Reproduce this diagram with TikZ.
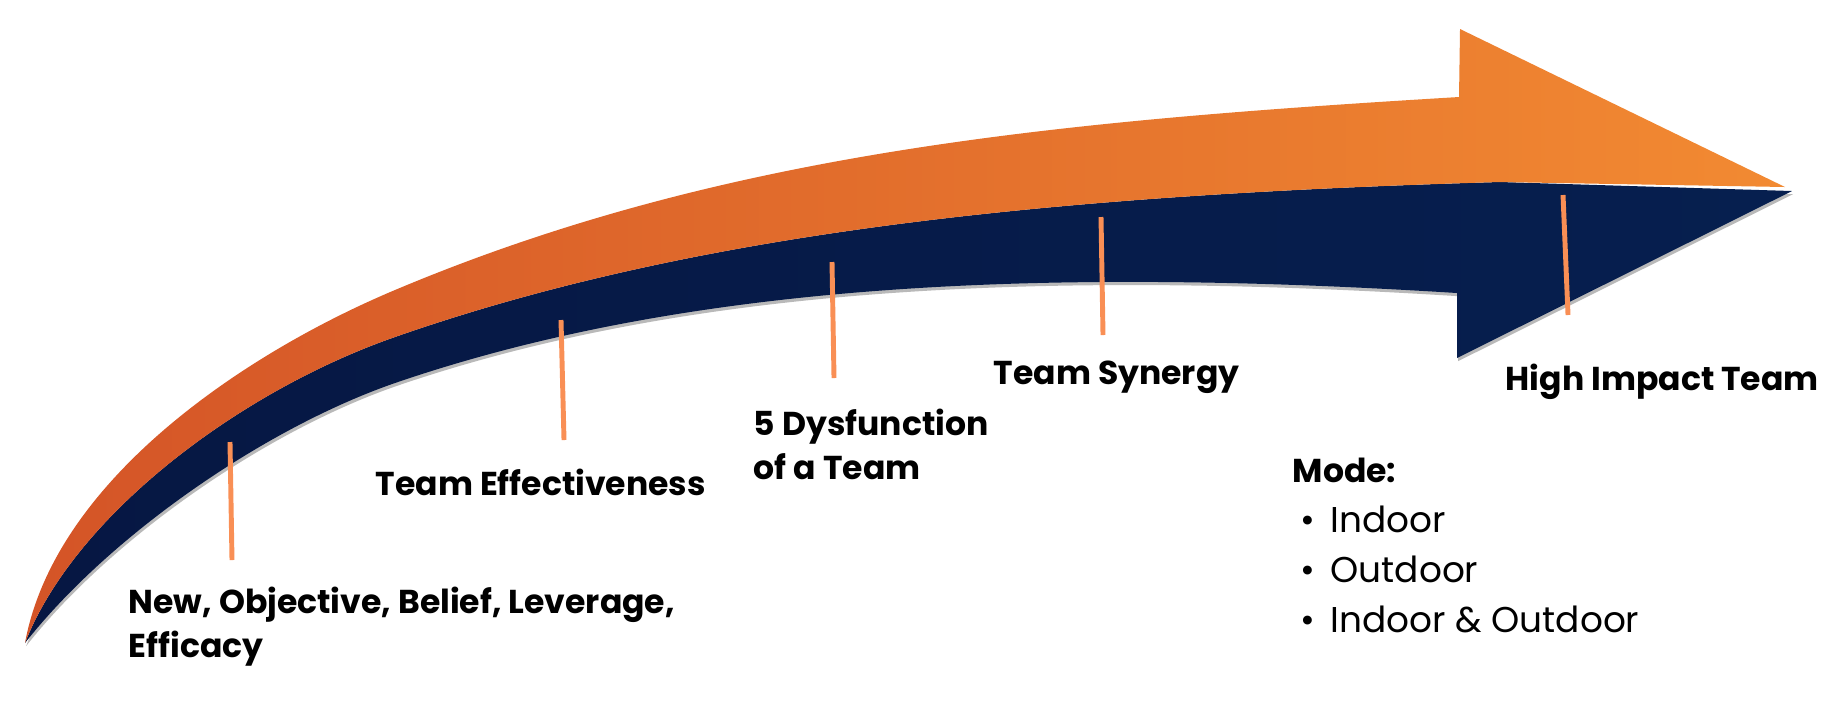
\documentclass[tikz,border=0pt]{standalone}
\usepackage{fontspec}
\setmainfont{Poppins}
\usepackage{tikz}

\definecolor{tailorange}{HTML}{D45427}
\definecolor{headorange}{HTML}{F28A32}
\definecolor{navyleft}{HTML}{061743}
\definecolor{navyright}{HTML}{061F4F}
\definecolor{stemorange}{HTML}{F98F55}

\tikzset{
  milestone/.style={inner sep=0pt, text=black, font=\bfseries\fontsize{9.4}{12.5}\selectfont},
  modeitem/.style={inner sep=0pt, text=black, font=\fontsize{10.2}{14}\selectfont},
  stem/.style={draw=stemorange, line width=1.4pt}
}

\begin{document}
\begin{tikzpicture}[x=0.01cm, y=-0.01cm]
            \useasboundingbox (0,0) rectangle (1828,705);
            % blue band, with its shadow
            \shade[left color=navyleft, right color=navyright,
                   preaction={fill=gray!55, transform canvas={xshift=0.3pt, yshift=-0.9pt}}]
                  (25,643) .. controls (75,515) and (240,391) .. (395,337)
                  .. controls (695,232) and (1050,195) .. (1500,182)
                  -- (1792,191) -- (1457,358) -- (1457,293)
                  .. controls (1057,268) and (695,280) .. (395,383)
                  .. controls (265,428) and (110,535) .. (25,643) -- cycle;
            % orange band
            \shade[left color=tailorange, right color=headorange]
                  (25,643) .. controls (55,480) and (245,353) .. (395,290)
                  .. controls (725,151) and (1059,121) .. (1459,97)
                  -- (1460,29) -- (1785,187) -- (1500,182)
                  .. controls (1050,195) and (695,232) .. (395,337)
                  .. controls (240,391) and (75,515) .. (25,643) -- cycle;
            % stems
            \coordinate (s1top) at (230,442);   \coordinate (s1foot) at (232,560);
            \coordinate (s2top) at (561,320);   \coordinate (s2foot) at (564,440);
            \coordinate (s3top) at (832,262);   \coordinate (s3foot) at (834,378);
            \coordinate (s4top) at (1101,217);  \coordinate (s4foot) at (1103,335);
            \coordinate (s5top) at (1563,195);  \coordinate (s5foot) at (1568,315);
            \draw[stem] (s1top) -- (s1foot);
            \draw[stem] (s2top) -- (s2foot);
            \draw[stem] (s3top) -- (s3foot);
            \draw[stem] (s4top) -- (s4foot);
            \draw[stem] (s5top) -- (s5foot);
            % milestones
            \node[milestone, anchor=north west, align=left] (nobel) at (128,586)
                  {New, Objective, Belief, Leverage,\\Efficacy};
            \node[milestone, anchor=base west] (effect) at (375,495) {Team Effectiveness};
            \node[milestone, anchor=north west, align=left] (dysf) at (753,408)
                  {5 Dysfunction\\of a Team};
            \node[milestone, anchor=base west] (synergy) at (993,384) {Team Synergy};
            \node[milestone, anchor=base west] (impact) at (1505,390) {High Impact Team};
            % mode list
            \node[milestone, anchor=base west] (mode) at (1292,482) {Mode:};
            \node[modeitem, anchor=base west] (indoor) at (1300,532) {\makebox[8.5pt][l]{•}Indoor};
            \node[modeitem, anchor=base west] (outdoor) at (1300,582) {\makebox[8.5pt][l]{•}Outdoor};
            \node[modeitem, anchor=base west] (both) at (1300,632) {\makebox[8.5pt][l]{•}Indoor \& Outdoor};
\end{tikzpicture}
\end{document}
